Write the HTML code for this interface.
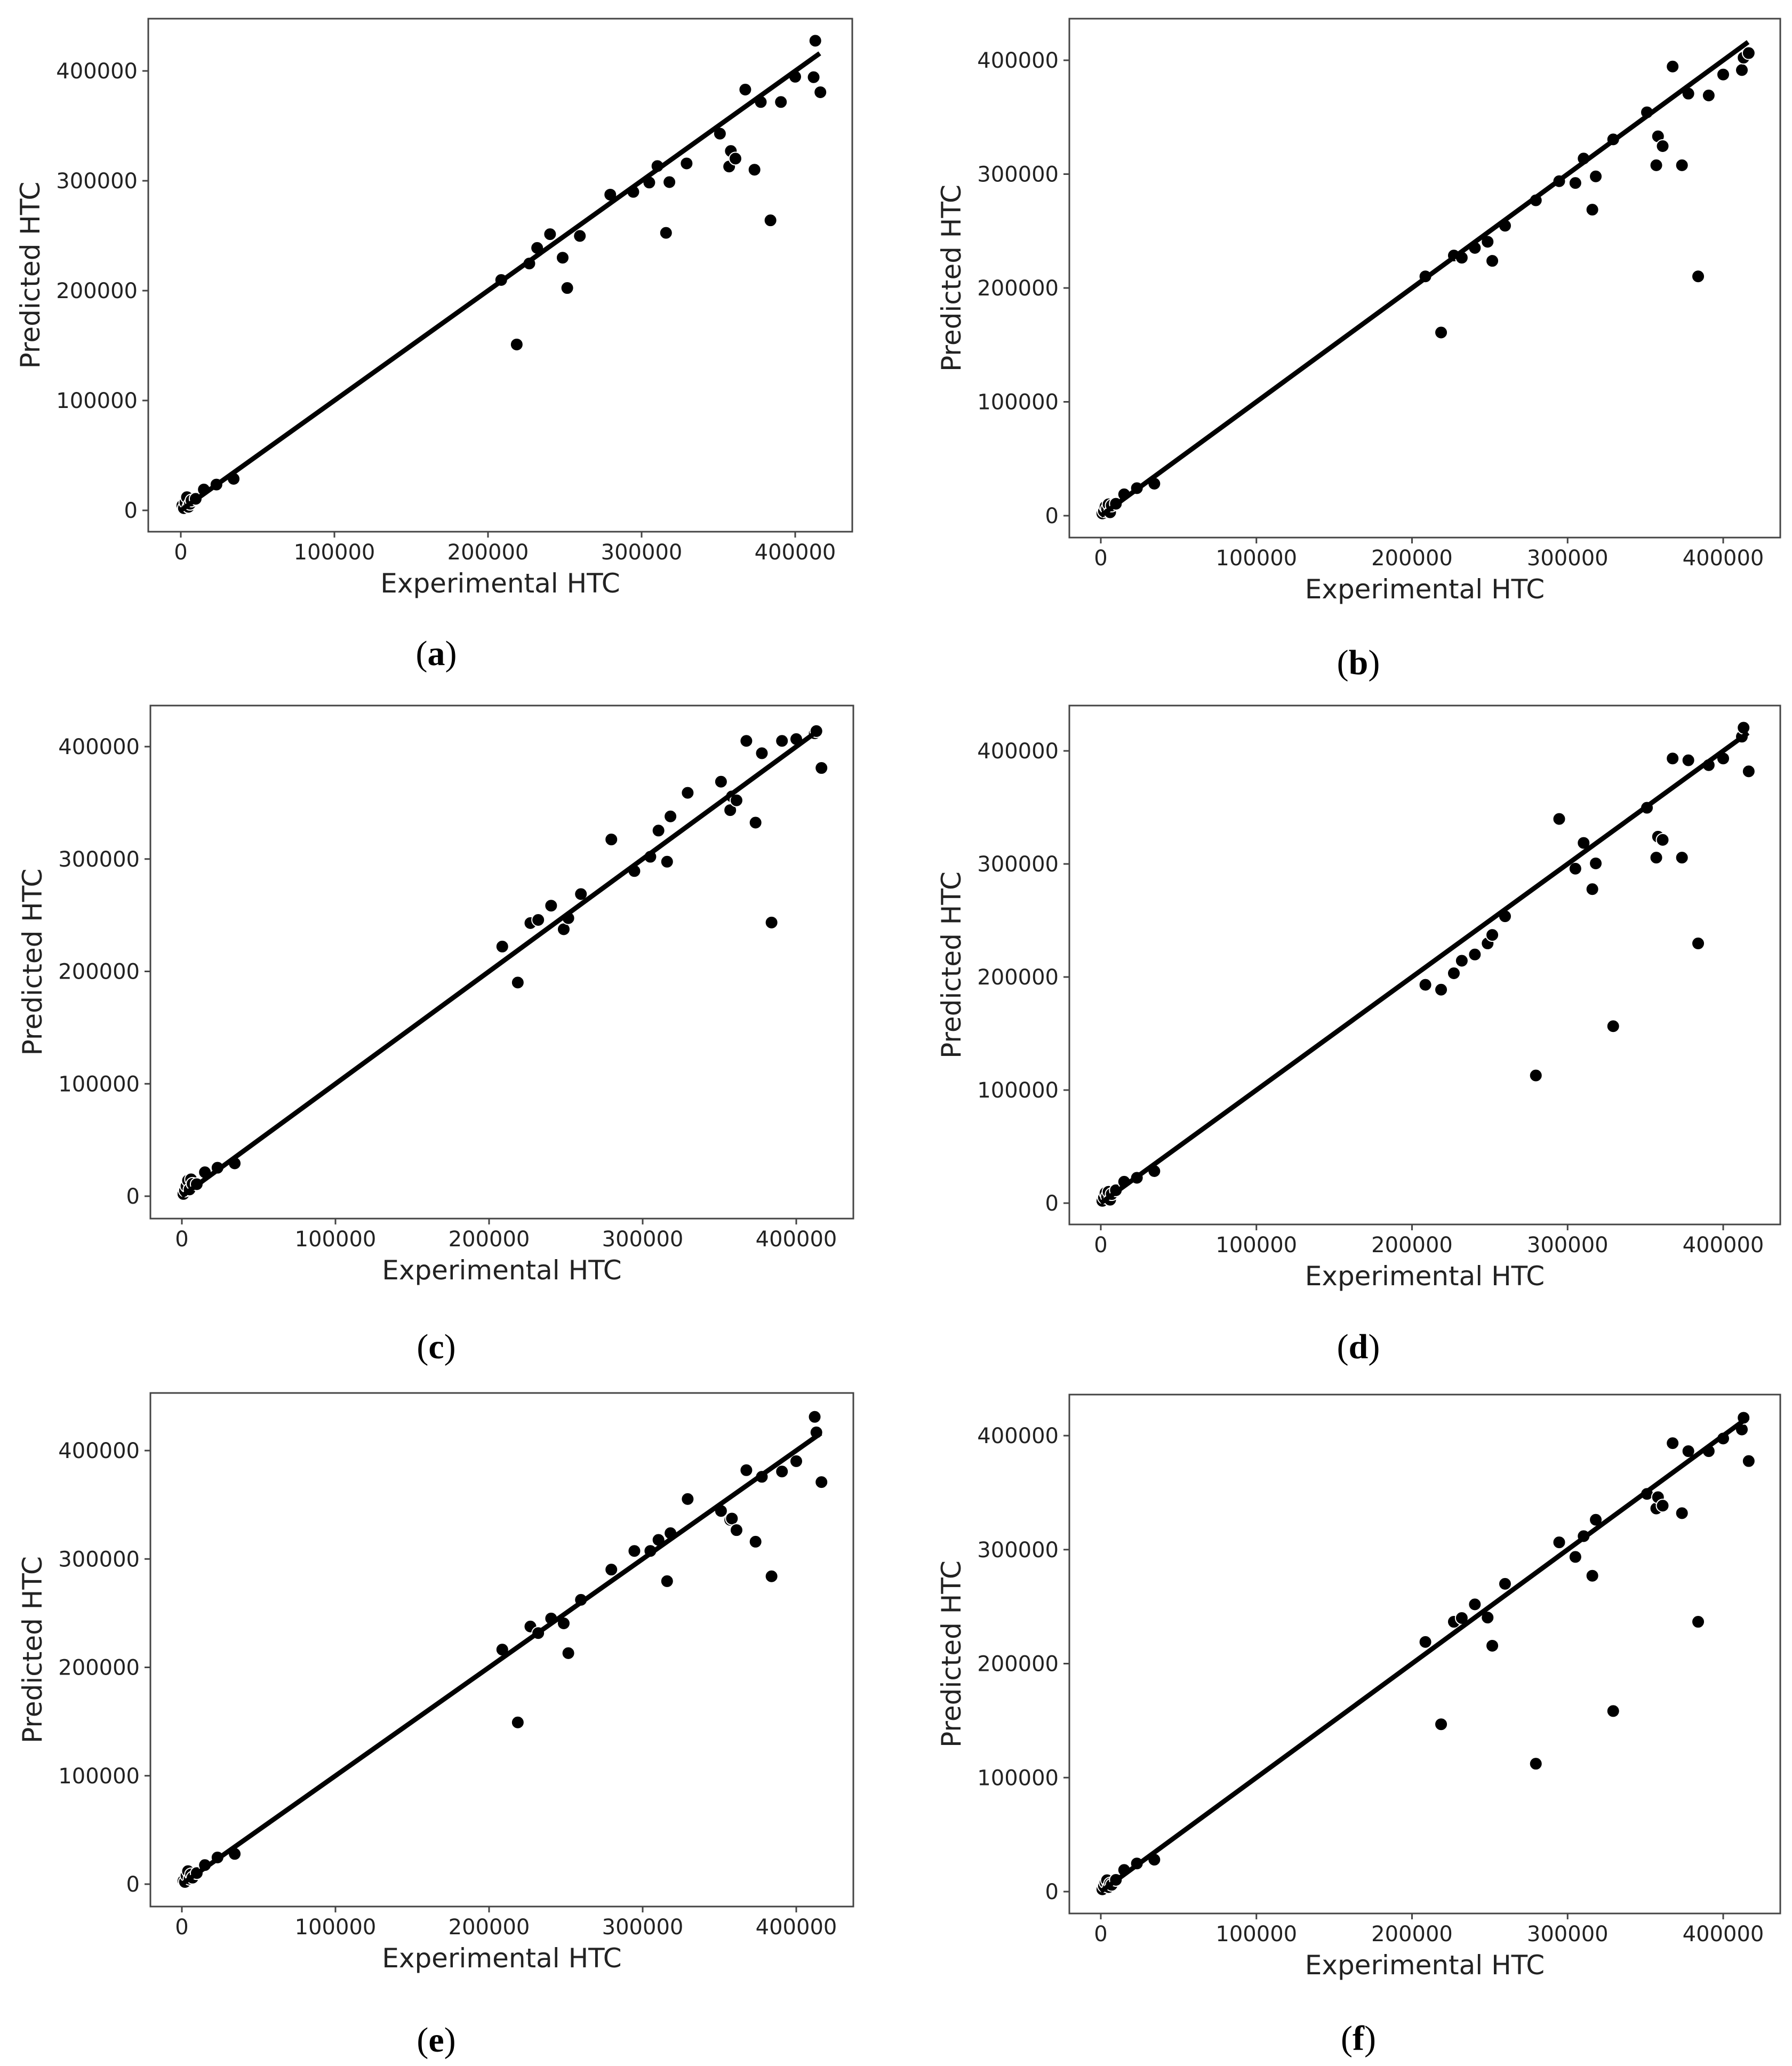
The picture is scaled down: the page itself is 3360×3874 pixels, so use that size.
<!DOCTYPE html>
<html><head><meta charset="utf-8"><style>
html,body{margin:0;padding:0;background:#fff;}
svg{display:block;}
</style></head><body>
<svg id="fig" width="3360" height="3874" viewBox="0 0 3360 3874" xmlns="http://www.w3.org/2000/svg"></svg>
<script>
const xExp = [1,2,3,4,5,6,7,9.7,15,23.2,34.4,208.6,218.7,226.9,232,240.4,248.6,251.6,259.8,279.6,294.6,305,310.3,315.9,318.1,329.3,351,357,358.1,361.1,367.5,373.5,377.6,383.9,390.7,400,412,413.1,416.4];
const yA = [4.5,2,7.3,12,3.2,6,9,10.5,19,23.5,28.7,209.7,151,224.7,238.9,251.4,230,202.4,249.8,287.4,289.9,298.4,313.4,252.6,298.8,315.8,342.9,313,327.1,320.2,383,310.1,371.7,264,371.7,394.7,394.3,427.5,380.6];
const yB = [2,4,8,6,10,3,9,10.5,18.8,24.2,28.1,210.2,160.9,228.5,226.6,235.2,240.6,223.8,254.7,277,293.8,292.2,313.7,268.8,298,330.5,354.3,307.8,333.2,324.6,394.5,307.8,370.7,210.2,369.1,387.5,391.4,402.3,406.3];
const yC = [2,5,9,14,6,15,11,10.7,21.3,25.3,29.2,222.1,190.1,243,245.8,258.5,237.5,247.4,268.8,317.4,289.3,302,325.3,297.6,337.9,358.9,368.8,343.5,355.7,352.2,405.1,332.4,394.1,243.5,405.1,406.7,411.9,413.8,381];
const yD = [2,5,9,6,10,3,8,11.4,18.9,22.4,28.3,193.1,188.8,203.3,214.4,219.9,229.7,237.2,253.7,112.9,339.8,295.8,318.6,277.7,300.5,156.5,349.7,305.6,324.1,321.3,393.3,305.6,391.7,229.7,387.4,393.3,412.6,420.5,381.9];
const yE = [3,2,8,12,5,9,6,10.2,17.6,24.6,27.9,216.4,149.2,237.7,231.6,245.1,240.6,213.1,262.3,290.2,307.4,307.4,317.6,279.5,323.8,355.3,344.3,336.1,337.3,326.6,381.9,315.9,375.8,284,380.7,390.2,431.1,416.8,370.9];
const yF = [2,5,8,10,4,7,6,10.3,19,24.7,28,219,146.8,236.7,240,252,240.4,215.7,270,112.2,306.4,293.6,311.8,277.1,326.2,158.4,348.9,336.1,346,338.6,393.4,332,386.4,236.7,386.4,397.5,405.4,415.7,377.7];
const tickVals = [0,100000,200000,300000,400000];
const tickLabels = ["0","100000","200000","300000","400000"];
const lineEnd = 416000;

const panels = [
 {id:'a', ys:yA, L:278, R:1598, T:35, B:997, x0:339, x4:1491, y0:957, y4:133, lx:818, ly:1225},
 {id:'b', ys:yB, L:2005, R:3338, T:35, B:1008, x0:2064, x4:3231, y0:967, y4:113, lx:2547, ly:1242},
 {id:'c', ys:yC, L:282, R:1600, T:1323, B:2285, x0:341, x4:1493, y0:2243, y4:1400, lx:818, ly:2525},
 {id:'d', ys:yD, L:2005, R:3338, T:1323, B:2296, x0:2064, x4:3231, y0:2256, y4:1408, lx:2547, ly:2525},
 {id:'e', ys:yE, L:282, R:1600, T:2612, B:3575, x0:341, x4:1493, y0:3533, y4:2720, lx:818, ly:3825},
 {id:'f', ys:yF, L:2005, R:3338, T:2615, B:3588, x0:2064, x4:3231, y0:3547, y4:2692, lx:2547, ly:3822}
];
const NS='http://www.w3.org/2000/svg';
const svg=document.getElementById('fig');
function mk(tag,attrs,parent){const e=document.createElementNS(NS,tag);for(const k in attrs)e.setAttribute(k,attrs[k]);(parent||svg).appendChild(e);return e;}
panels.forEach(p=>{
  const sx=v=>p.x0+(v/400000)*(p.x4-p.x0);
  const sy=v=>p.y0+(v/400000)*(p.y4-p.y0);
  const g=mk('g',{});
  
  
  const fr=mk('rect',{x:p.L,y:p.T,width:p.R-p.L,height:p.B-p.T,fill:'none',stroke:'#444','stroke-width':3},g);
  
  
  tickVals.forEach((v,i)=>{
    const X=sx(v);
    const t1=mk('line',{x1:X,y1:p.B,x2:X,y2:p.B+11,stroke:'#444','stroke-width':3},g);
    
    
    const tx=mk('text',{x:X,y:p.B+52,'text-anchor':'middle','font-size':40,fill:'#222','font-family':'DejaVu Sans, Liberation Sans, sans-serif'},g);
    tx.textContent=tickLabels[i];
    
    
    const Y=sy(v);
    const t2=mk('line',{x1:p.L-11,y1:Y,x2:p.L,y2:Y,stroke:'#444','stroke-width':3},g);
    
    
    const ty=mk('text',{x:p.L-20,y:Y+14,'text-anchor':'end','font-size':40,fill:'#222','font-family':'DejaVu Sans, Liberation Sans, sans-serif'},g);
    ty.textContent=tickLabels[i];
    
    
  });
  const xl=mk('text',{x:(p.L+p.R)/2,y:p.B+114,'text-anchor':'middle','font-size':50,fill:'#222','font-family':'DejaVu Sans, Liberation Sans, sans-serif'},g);
  xl.textContent='Experimental HTC';
  
  
  const cx=p.L-222, cy=(p.T+p.B)/2;
  const yl=mk('text',{x:cx,y:cy+18,'text-anchor':'middle','font-size':50,fill:'#222','font-family':'DejaVu Sans, Liberation Sans, sans-serif',transform:'rotate(-90 '+cx+' '+cy+')'},g);
  yl.textContent='Predicted HTC';
  
  
  xExp.forEach((xv,i)=>{
    const c=mk('circle',{cx:sx(xv*1000),cy:sy(p.ys[i]*1000),r:12,fill:'#000',stroke:'#fff','stroke-width':2},g);
    
    
  });
  const ln=mk('line',{x1:sx(0),y1:sy(0),x2:sx(lineEnd),y2:sy(lineEnd),stroke:'#000','stroke-width':9},g);
  
  
  const lab=mk('text',{x:p.lx,y:p.ly+22,'text-anchor':'middle','font-size':66,fill:'#000','font-family':'Liberation Serif, serif'},g);
  
  
  const o=mk('tspan',{},lab);o.textContent='(';
  const b=mk('tspan',{'font-weight':'bold'},lab);b.textContent=p.id;
  const c2=mk('tspan',{},lab);c2.textContent=')';
});
</script>
</body></html>
